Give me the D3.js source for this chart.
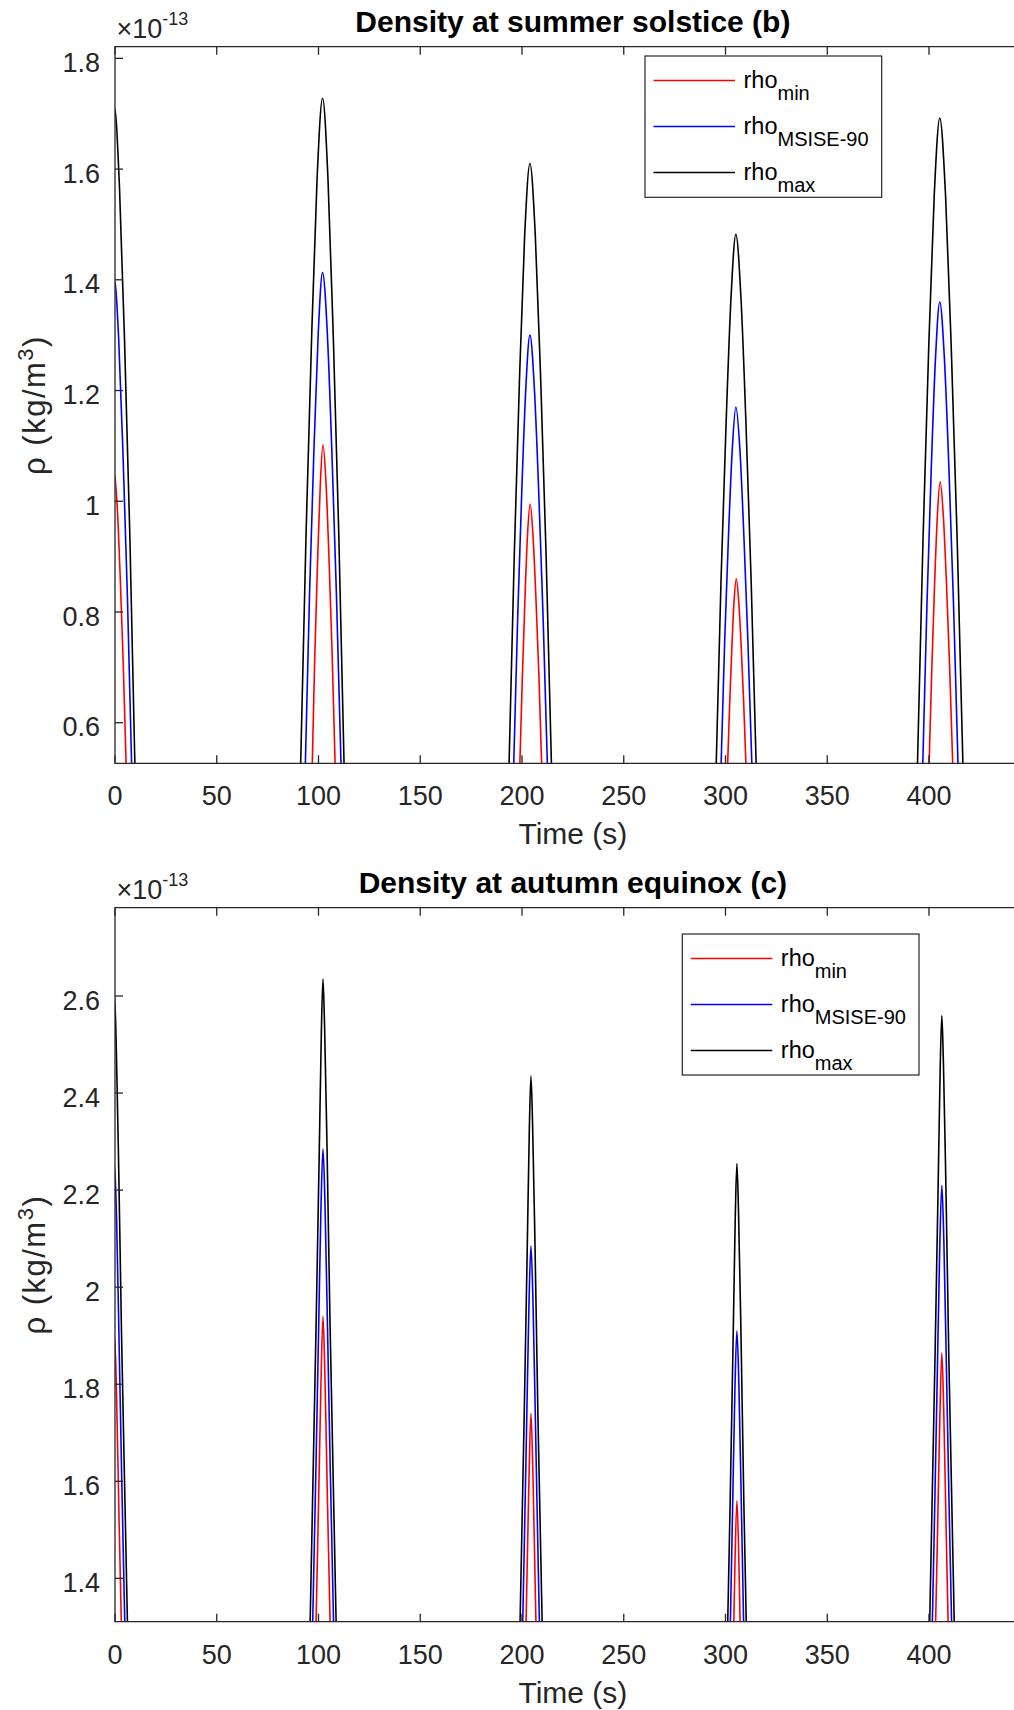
<!DOCTYPE html>
<html lang="en">
<head>
<meta charset="UTF-8">
<title>Density at summer solstice / autumn equinox</title>
<script src="https://d3js.org/d3.v7.min.js"></script>
<style>
  body { margin: 0; background: #fff; }
  svg { display: block; font-family: "Liberation Sans", Arial, Helvetica, sans-serif; }
  .tick-label { font-size: 27px; fill: #262626; }
  .axis-label { font-size: 30px; fill: #262626; }
  .y-label { font-size: 31px; letter-spacing: 1.5px; }
  .title { font-size: 30px; font-weight: bold; fill: #000; }
  .line { fill: none; stroke-width: 1.6; stroke-linejoin: round; }
  .legend-text { font-size: 23.5px; fill: #000; }
  .domain-line { stroke: #262626; stroke-width: 1.3; fill: none; }
</style>
</head>
<body>
<div id="chart"></div>
<script>
// ---- data (time in s, density in 1e-13 kg/m^3) ----
var xTicks = [0, 50, 100, 150, 200, 250, 300, 350, 400];
var summerYTicks = [0.6, 0.8, 1, 1.2, 1.4, 1.6, 1.8];
var autumnYTicks = [1.4, 1.6, 1.8, 2, 2.2, 2.4, 2.6];
var seriesKeys = ["min", "MSISE-90", "max"];

// each series = list of peaks, each peak = [t, rho] points
var summerMin = [
  [[-6,0.52],[-4.6,0.706],[-3.15,0.859],[-1.7,0.986],[-0.3,1.05],[1.15,0.986],[2.6,0.859],[4.05,0.706],[5.5,0.52]],
  [[96.9,0.52],[98.2,0.724],[99.55,0.892],[100.9,1.032],[102.2,1.102],[103.7,1.032],[105.2,0.892],[106.7,0.724],[108.2,0.52]],
  [[198.9,0.52],[200.2,0.686],[201.45,0.824],[202.7,0.938],[204,0.995],[205.4,0.938],[206.85,0.824],[208.3,0.686],[209.7,0.52]],
  [[301,0.52],[302.1,0.639],[303.15,0.738],[304.2,0.819],[305.3,0.86],[306.5,0.819],[307.7,0.738],[308.9,0.639],[310.1,0.52]],
  [[400,0.52],[401.4,0.70],[402.75,0.85],[404.1,0.973],[405.5,1.035],[407.05,0.973],[408.6,0.85],[410.15,0.70],[411.7,0.52]]
];
var summerMsise = [
  [[-8.9,0.52],[-6.75,0.828],[-4.6,1.083],[-2.45,1.294],[-0.3,1.40],[1.8,1.294],[3.95,1.083],[6.1,0.828],[8.2,0.52]],
  [[93.5,0.52],[95.6,0.833],[97.75,1.092],[99.9,1.306],[102,1.413],[104.3,1.306],[106.55,1.092],[108.8,0.833],[111.1,0.52]],
  [[195.9,0.52],[197.9,0.793],[199.9,1.019],[201.9,1.206],[203.9,1.30],[206.05,1.206],[208.2,1.019],[210.35,0.793],[212.5,0.52]],
  [[297.8,0.52],[299.6,0.748],[301.45,0.936],[303.3,1.092],[305.1,1.17],[307.1,1.092],[309.05,0.936],[311,0.748],[313,0.52]],
  [[396.9,0.52],[399,0.814],[401.1,1.058],[403.2,1.259],[405.3,1.36],[407.55,1.259],[409.8,1.058],[412.05,0.814],[414.3,0.52]]
];
var summerMax = [
  [[-11.1,0.52],[-8.4,0.937],[-5.7,1.282],[-3,1.567],[-0.3,1.712],[2.2,1.567],[4.75,1.282],[7.3,0.937],[9.8,0.52]],
  [[91.2,0.52],[93.9,0.943],[96.6,1.293],[99.3,1.583],[102,1.728],[104.65,1.583],[107.3,1.293],[109.95,0.943],[112.6,0.52]],
  [[193.6,0.52],[196.2,0.902],[198.75,1.218],[201.3,1.479],[203.9,1.61],[206.55,1.479],[209.2,1.218],[211.85,0.902],[214.5,0.52]],
  [[295.4,0.52],[297.8,0.857],[300.25,1.136],[302.7,1.367],[305.1,1.482],[307.6,1.367],[310.1,1.136],[312.6,0.857],[315.1,0.52]],
  [[394.3,0.52],[397.05,0.93],[399.8,1.27],[402.55,1.551],[405.3,1.692],[408.15,1.551],[411,1.27],[413.85,0.93],[416.7,0.52]]
];

var autumnMin = [
  [[-3.45,1.30],[-2.4,1.51],[-1.2,1.76],[-0.2,1.90],[0.8,1.77],[2,1.52],[3.15,1.30]],
  [[98.75,1.30],[100,1.55],[101.2,1.80],[102.2,1.94],[103.2,1.81],[104.4,1.56],[105.75,1.30]],
  [[201.95,1.30],[202.2,1.35],[203.4,1.60],[204.4,1.74],[205.4,1.61],[206.6,1.36],[206.9,1.30]],
  [[304.03,1.30],[304.6,1.42],[305.6,1.56],[306.6,1.43],[307.22,1.30]],
  [[403.2,1.30],[404.1,1.475],[405.3,1.725],[406.3,1.865],[407.3,1.735],[408.5,1.485],[409.45,1.30]]
];
var autumnMsise = [
  [[-5.1,1.30],[-3.7,1.585],[-2.4,1.865],[-1.2,2.125],[-0.2,2.25],[0.8,2.135],[2.1,1.865],[3.4,1.585],[4.85,1.30]],
  [[97.1,1.30],[98.7,1.62],[100,1.90],[101.2,2.16],[102.2,2.285],[103.2,2.17],[104.5,1.90],[105.8,1.62],[107.45,1.30]],
  [[200.3,1.30],[200.9,1.42],[202.2,1.70],[203.4,1.96],[204.4,2.085],[205.4,1.97],[206.7,1.70],[208,1.42],[208.6,1.30]],
  [[302.35,1.30],[303.4,1.525],[304.6,1.785],[305.6,1.91],[306.6,1.795],[307.9,1.525],[308.95,1.30]],
  [[401.6,1.30],[402.8,1.545],[404.1,1.825],[405.3,2.085],[406.3,2.21],[407.3,2.095],[408.6,1.825],[409.9,1.545],[411.15,1.30]]
];
var autumnMax = [
  [[-6.4,1.30],[-3.5,1.905],[-2,2.25],[-1,2.49],[-0.2,2.60],[0.6,2.50],[1.8,2.25],[3.2,1.905],[6.15,1.30]],
  [[95.85,1.30],[98.9,1.94],[100.4,2.285],[101.4,2.525],[102.2,2.635],[103,2.535],[104.2,2.285],[105.6,1.94],[108.7,1.30]],
  [[199,1.30],[201.1,1.74],[202.6,2.085],[203.6,2.325],[204.4,2.435],[205.2,2.335],[206.4,2.085],[207.8,1.74],[209.95,1.30]],
  [[301.05,1.30],[302.3,1.56],[303.8,1.905],[304.8,2.145],[305.6,2.255],[306.4,2.155],[307.6,1.905],[309,1.56],[310.25,1.30]],
  [[400.3,1.30],[403,1.865],[404.5,2.21],[405.5,2.45],[406.3,2.56],[407.1,2.46],[408.3,2.21],[409.7,1.865],[412.45,1.30]]
];

var w = 1014, h = 1710;
var colors = { "min": "#ff0000", "MSISE-90": "#0000ff", "max": "#000000" };

var panels = [
  { id: "summer", title: "Density at summer solstice (b)", top: 46.7, bottom: 763.3,
    yDomain: [0.5267, 1.821], yTicks: summerYTicks,
    series: { "min": summerMin, "MSISE-90": summerMsise, "max": summerMax },
    legend: { x: 645, y: 56, w: 236.7, h: 141.3 } },
  { id: "autumn", title: "Density at autumn equinox (c)", top: 907.7, bottom: 1621.7,
    yDomain: [1.3106, 2.782], yTicks: autumnYTicks,
    series: { "min": autumnMin, "MSISE-90": autumnMsise, "max": autumnMax },
    legend: { x: 682.3, y: 934, w: 236.7, h: 141 } }
];

var left = 115;
var x = d3.scaleLinear().domain([0, 450]).range([left, left + 450 * 2.035]);
var tickLen = 8;

var svg = d3.select("#chart").append("svg")
    .attr("width", w)
    .attr("height", h);

panels.forEach(function(p) {
    var y = d3.scaleLinear().domain(p.yDomain).range([p.bottom, p.top]);
    var g = svg.append("g").attr("class", p.id);
    var right = x.range()[1];

    g.append("clipPath").attr("id", "clip-" + p.id)
      .append("rect")
        .attr("x", left).attr("y", p.top)
        .attr("width", right - left).attr("height", p.bottom - p.top);

    // curves
    var line = d3.line()
        .x(function(d) { return x(d[0]); })
        .y(function(d) { return y(d[1]); })
        .curve(d3.curveMonotoneX);

    var plot = g.append("g").attr("clip-path", "url(#clip-" + p.id + ")");
    seriesKeys.forEach(function(k) {
        var cls = "s-" + k.replace(/[^a-z]/gi, "");
        plot.selectAll("path." + cls)
            .data(p.series[k])
            .enter().append("path")
            .attr("class", "line " + cls)
            .style("stroke", colors[k])
            .attr("d", line);
    });

    // box (left, bottom, top) - right side falls outside the picture
    g.append("path").attr("class", "domain-line")
        .attr("d", "M" + right + "," + p.top + "H" + left + "V" + p.bottom + "H" + right);

    // x ticks (bottom and top, inward)
    xTicks.forEach(function(t) {
        g.append("line").attr("class", "domain-line")
            .attr("x1", x(t)).attr("x2", x(t))
            .attr("y1", p.bottom).attr("y2", p.bottom - tickLen);
        g.append("line").attr("class", "domain-line")
            .attr("x1", x(t)).attr("x2", x(t))
            .attr("y1", p.top).attr("y2", p.top + tickLen);
    });
    g.selectAll("text.xtick")
        .data(xTicks)
        .enter().append("text")
        .attr("class", "tick-label xtick")
        .attr("x", function(d) { return x(d); })
        .attr("y", p.bottom + 42)
        .attr("text-anchor", "middle")
        .text(function(d) { return d; });

    // y ticks
    p.yTicks.forEach(function(v) {
        g.append("line").attr("class", "domain-line")
            .attr("x1", left).attr("x2", left + tickLen)
            .attr("y1", y(v)).attr("y2", y(v));
    });
    g.selectAll("text.ytick")
        .data(p.yTicks)
        .enter().append("text")
        .attr("class", "tick-label ytick")
        .attr("x", left - 15)
        .attr("y", function(d) { return y(d) + 13.7; })
        .attr("text-anchor", "end")
        .text(function(d) { return String(d); });

    // exponent
    var ex = g.append("text").attr("class", "tick-label")
        .attr("x", left + 1.5).attr("y", p.top - 9);
    ex.append("tspan").text("\u00d710");
    ex.append("tspan").attr("dy", -12.5).style("font-size", "18px").text("-13");

    // title
    g.append("text").attr("class", "title")
        .attr("x", (left + right) / 2).attr("y", p.top - 15)
        .attr("text-anchor", "middle")
        .text(p.title);

    // axis labels
    g.append("text").attr("class", "axis-label")
        .attr("x", (left + right) / 2).attr("y", p.bottom + 81)
        .attr("text-anchor", "middle")
        .text("Time (s)");

    var yl = g.append("text").attr("class", "axis-label y-label")
        .attr("transform", "translate(45," + ((p.top + p.bottom) / 2) + ") rotate(-90)")
        .attr("text-anchor", "middle");
    yl.append("tspan").text("\u03c1 (kg/m");
    yl.append("tspan").attr("dy", -12).style("font-size", "22px").text("3");
    yl.append("tspan").attr("dy", 12).text(")");

    // legend
    var lg = g.append("g").attr("class", "legend")
        .attr("transform", "translate(" + p.legend.x + "," + p.legend.y + ")");
    lg.append("rect")
        .attr("width", p.legend.w).attr("height", p.legend.h)
        .style("fill", "#fff").style("stroke", "#262626").style("stroke-width", 1.2);
    seriesKeys.forEach(function(k, i) {
        var ry = 24.5 + i * 46;
        lg.append("line")
            .attr("x1", 8.5).attr("x2", 90)
            .attr("y1", ry).attr("y2", ry)
            .style("stroke", colors[k]).style("stroke-width", 1.5);
        var tx = lg.append("text").attr("class", "legend-text")
            .attr("x", 98.5).attr("y", ry + 7.3);
        tx.append("tspan").text("rho");
        tx.append("tspan").attr("dy", 11.7).style("font-size", "20px").text(k);
    });
});
</script>
</body>
</html>
